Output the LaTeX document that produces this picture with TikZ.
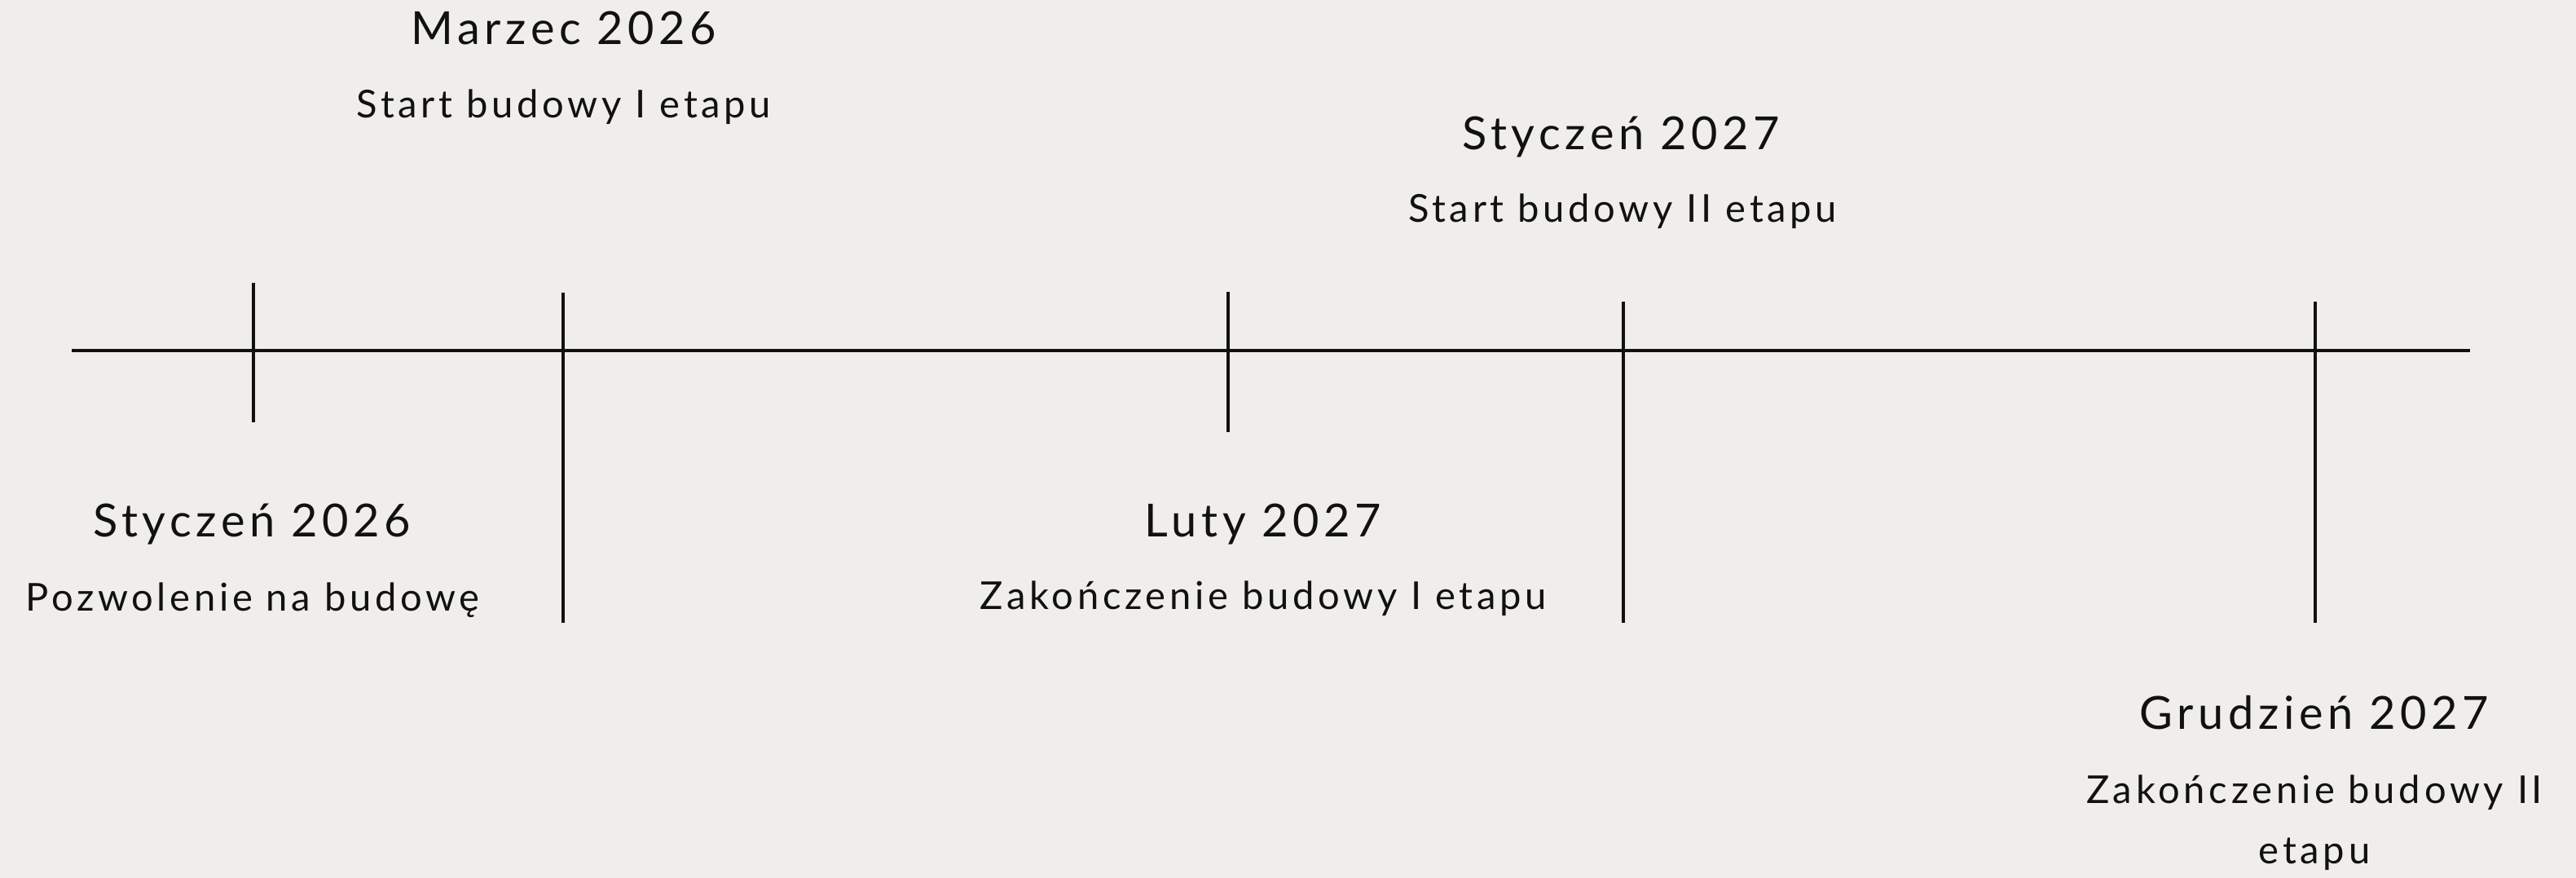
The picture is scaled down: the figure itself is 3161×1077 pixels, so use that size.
\documentclass[tikz,border=0pt]{standalone}
\usepackage{fontspec}
\setmainfont{Lato}[LetterSpace=10]
\definecolor{bg}{HTML}{F0EEEB}
\definecolor{ink}{HTML}{111111}
\begin{document}
\begin{tikzpicture}[x=0.01cm,y=-0.01cm,
  axis/.style={line width=1pt, draw=ink},
  ttl/.style={anchor=base, inner sep=0pt, text=ink, font=\fontsize{15.9}{19}\selectfont},
  dsc/.style={anchor=base, inner sep=0pt, text=ink, align=center, font=\fontsize{13.4}{21.3}\selectfont}]
\fill[bg] (0,0) rectangle (3161,1077);
\useasboundingbox (0,0) rectangle (3161,1077);
% main axis
\coordinate (L) at (88,430);
\coordinate (R) at (3031,430);
\draw[axis] (L) -- (R);
% ticks
\coordinate (t1a) at (311,347);  \coordinate (t1b) at (311,518);
\coordinate (t2a) at (691,359);  \coordinate (t2b) at (691,764);
\coordinate (t3a) at (1507,358); \coordinate (t3b) at (1507,530);
\coordinate (t4a) at (1992,370); \coordinate (t4b) at (1992,764);
\coordinate (t5a) at (2841,370); \coordinate (t5b) at (2841,764);
\draw[axis] (t1a) -- (t1b);
\draw[axis] (t2a) -- (t2b);
\draw[axis] (t3a) -- (t3b);
\draw[axis] (t4a) -- (t4b);
\draw[axis] (t5a) -- (t5b);
% labels
\node[ttl] (m1) at (692,55) {Marzec 2026};
\node[dsc] (d1) at (692,145) {Start budowy I etapu};
\node[ttl] (m2) at (309,659) {Styczeń 2026};
\node[dsc] (d2) at (310,750) {Pozwolenie na budowę};
\node[ttl] (m3) at (1989,184) {Styczeń 2027};
\node[dsc] (d3) at (1991,273) {Start budowy II etapu};
\node[ttl] (m4) at (1550,659) {Luty 2027};
\node[dsc] (d4) at (1550,748) {Zakończenie budowy I etapu};
\node[ttl] (m5) at (2840,895) {Grudzień 2027};
\node[dsc] (d5) at (2840,1060) {Zakończenie budowy II\\etapu};
\end{tikzpicture}
\end{document}
